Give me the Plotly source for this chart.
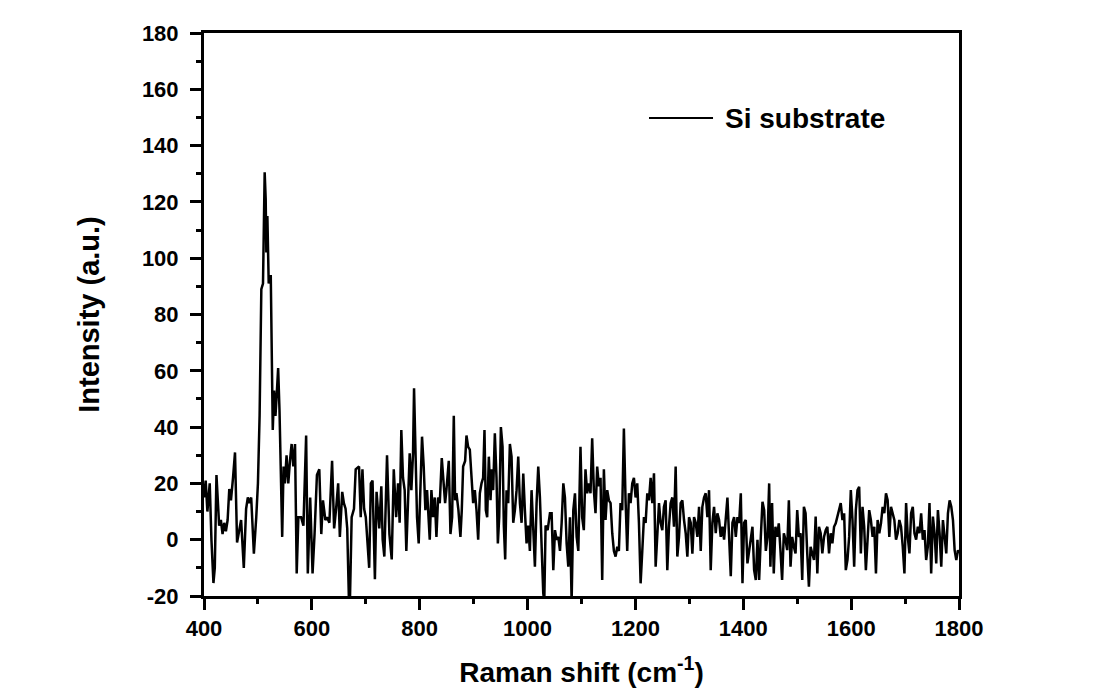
import plotly.graph_objects as go

# ---- data: Raman spectrum of Si substrate ----
shift_a = [400, 403.1, 406.3, 410.6, 413.8, 417.5, 420, 423.1, 428.1, 431.3, 434.4, 437.5, 440.6, 443.8,
           446.9, 450, 453.8, 457.5, 461.3, 465.6, 468.8, 473.8, 478.1, 481.3, 484.4, 487.5, 492.5, 496.9,
           500, 503.1, 506.3, 509.4, 512.5, 514.4, 515.6, 517.5, 520, 523.8, 526.3, 527.5, 530, 532.5, 535,
           537.5, 540, 542.5, 545, 547.5, 550, 553.1, 556.3, 559.4, 562.5, 565.6, 568.8, 571.9, 575, 580,
           584.4, 589.4, 592.5, 596.9, 601.3, 605, 609.4, 613.8, 617.5, 620.6, 625, 628.1, 632.5, 637.5,
           641.3, 645, 648.8, 651.9, 656.3, 659.4, 662.5, 665.6, 668.8, 670.6, 673.8, 678.1, 681.3, 687.5,
           690.6, 693.8, 696.9, 700, 706.3, 709.4, 712.5, 716.9, 720, 725, 728.8, 731.3, 734.4, 739.4,
           743.8, 748.1, 751.9, 756.3]
intensity_a = [15, 21, 10, 20, 0, -15.4, -10, 23, 5, 7, 2, 6, 3, 7,
               18, 14, 22, 31, -1, 4, 7, -10, 11, 15, 13, 15, -5, 8,
               20, 44, 89, 91, 130.5, 121, 102, 115, 91, 94, 56, 39, 53, 44, 52,
               61, 46, 20, 1, 26, 20, 30, 20, 28, 34, 26, 34, -12, 8, 8,
               5, 37, -12, 15, -12, 2, 23, 25, 2, 14, 7, 8, 6, 28,
               4, 11, 20, 1, 17, 13, 11, 4, -22, -22, 8, 11, 25, 26,
               8, 25, 11, 8, -10, 20, 21, -14, 17, 4, 19, 0, -6, 30,
               2, -7, 25, 8]

shift_b = [759.8, 762.8, 765.9, 769, 772.1, 775.2, 778.3, 781.4, 784.5, 787.6,
           789.5, 792.6, 795, 798.1, 801.2, 804.3, 807.4, 810.5, 813.6, 818.6,
           821.7, 824.8, 827.9, 831, 834.1, 837.2, 840.9, 844.6, 847.1, 849.5,
           853.9, 857, 860.1, 863.2, 865.6, 868.1, 871.8, 875.5, 878, 880.5,
           884.2, 886.7, 889.8, 892.9, 896, 899.1, 902.2, 905.3, 908.4, 911.5,
           914.6, 917.6, 920.1, 922.6, 925.1, 928.2, 931.3, 933.7, 936.2, 939.3,
           942.4, 944.9, 947.4, 950.5, 953.6, 956, 958.5, 961, 964.1, 967.2,
           970.3, 973.4, 976.5, 979.6, 982.7, 985.8, 988.9, 992, 995, 998.1,
           1001.2, 1004.3, 1007.4, 1010.5, 1013.6, 1016.7, 1019.8, 1022.9, 1026, 1029.1,
           1031, 1033.4, 1037.2, 1041.5, 1044.6, 1047.7, 1050.8, 1053.9, 1057, 1060.1,
           1063.2, 1066.3, 1069.3, 1072.4, 1075.5, 1078.6, 1081.7, 1084.8, 1087.9, 1091, 1094.1]
intensity_b = [20, 6, 39, 22, 17.6, -4, 16.5, 30.7, 17.6, 30.7,
               53.8, 32, 8, -1.3, 20, 36.6, 26, 10.5, 17.6, 0,
               17.6, 8, 15, 1, 15, 13, 29, 20, 13, 17.6,
               28, 2, 8, 44, 14, 16.5, 10.5, 1, 10.5, 26,
               28, 37, 33, 32, 22, 13, 17.6, 10.5, 0, 16.5,
               20, 22, 39, 10.5, 8, 29.5, 14, 25, 17.6, 37.8,
               22, -1.3, 8, 40, 33, 5, -7, 17.6, 13, 34,
               29.5, 6, 10.5, 17.6, 29.5, 13, 6, 23.5, 10.5, -1.3,
               5, -4, 17.6, 6, -9.6, 13, 26, 15, -6, -19,
               -22, 5, 3.4, 9.4, 9.4, -10.8, 3.4, 0, 1, -4,
               6, 20, 15, -1.3, -9.6, 8, -22, 10.5, 16.5, 1, -4]

shift_c = [1098.1, 1101.2, 1104.3, 1107.4, 1110.5, 1113.6, 1116.7, 1119.8, 1122.9, 1126,
           1129.1, 1132.2, 1135.3, 1138.4, 1141.5, 1144.6, 1147.7, 1150.8, 1153.9, 1157,
           1160.1, 1163.2, 1166.3, 1169.3, 1172.4, 1175.5, 1178.6, 1181.7, 1184.8, 1187.9,
           1191, 1194.1, 1197.2, 1200.3, 1203.4, 1206.5, 1209.6, 1212.7, 1215.8, 1218.9,
           1222, 1225.1, 1228.2, 1231.3, 1234.4, 1237.5, 1240.6, 1243.7, 1246.7, 1249.8,
           1252.9, 1256, 1259.1, 1262.2, 1265.3, 1268.4, 1271.5, 1274.6, 1277.7, 1280.8,
           1283.9, 1287, 1290.1, 1293.2, 1296.3, 1299.4, 1302.5, 1305.6, 1308.7, 1311.8,
           1314.9, 1318, 1321.1, 1324.1, 1327.2, 1330.3, 1333.4, 1336.5, 1339.6, 1342.7,
           1345.8, 1348.9, 1352, 1355.1, 1358.2, 1361.3, 1364.4, 1367.5, 1370.6, 1373.7,
           1376.8, 1379.9, 1383, 1386.1, 1389.2, 1392.3, 1395.4, 1398.5, 1401.5, 1404.6,
           1407.7, 1410.8, 1413.9, 1417, 1420.1, 1423.2, 1426.3, 1429.4, 1432.5, 1435.6,
           1438.7, 1441.8, 1444.9, 1448]
intensity_c = [33, 8, 3.4, 25, 16.5, 20, 16.5, 36, 17.6, 9.4,
               26, 19, 22, -14.3, 25, 7, 17.6, 14, 13, 2.3,
               -4, -6, -2.5, -4, 13, 10.5, 39.5, 14, -4, 16.5,
               13, 20, 22, 15, 20, 6, -15.5, -4, 8, 6,
               16.5, 14, 22, 13, 23.6, -9.6, 2.3, 13, 6, 3.4,
               11.7, 14, -10.8, 4.6, 13, 15, 4.6, 26, -6, 1,
               13, 14, 7, 2.3, -6, 8, 6, -5, 8, 6,
               1, 11.7, -4, 11.7, 15, 16.5, 8, 17.6, -10.8, 6,
               11.7, 2.3, 9.4, 7, 1, 4.6, 0, 8, 15, 1,
               -13, 6, 8, 1, 8, 6, 16.5, -15.5, 6, 7,
               -8.4, -4, 1, 4.6, -10.8, -14.3, 0, -14.3, 1, 13.5,
               10.5, -4, 1, 20]

shift_d = [1450.3, 1453.4, 1456.5, 1459.6, 1462.7, 1465.8, 1468.9, 1472, 1475.2, 1478.3,
           1481.4, 1484.5, 1487.6, 1490.7, 1493.8, 1496.9, 1500, 1503.1, 1506.2, 1509.3,
           1512.4, 1515.5, 1518.6, 1521.7, 1524.8, 1528, 1531.1, 1534.2, 1537.3, 1540.4,
           1543.5, 1546.6, 1549.7, 1552.8, 1555.9, 1559, 1562.1, 1565.2, 1568.3, 1571.4,
           1574.5, 1577.6, 1580.7, 1583.9, 1587, 1590.1, 1593.2, 1596.3, 1599.4, 1602.5,
           1605.6, 1608.7, 1611.8, 1614.9, 1618, 1621.1, 1624.2, 1627.3, 1630.4, 1633.5,
           1636.6, 1639.8, 1642.9, 1646, 1649.1, 1652.2, 1655.3, 1658.4, 1661.5, 1664.6,
           1667.7, 1670.8, 1673.9, 1677, 1680.1, 1683.2, 1686.3, 1689.4, 1692.5, 1695.7,
           1698.8, 1701.9, 1705, 1708.1, 1711.2, 1714.3, 1717.4, 1720.5, 1723.6, 1726.7,
           1729.8, 1732.9, 1736, 1739.1, 1742.2, 1745.3, 1748.4, 1751.6, 1754.7, 1757.8,
           1760.9, 1764, 1767.1, 1770.2, 1773.3, 1776.4, 1779.5, 1782.6, 1785.7, 1788.8,
           1791.9, 1795, 1798.1, 1800]
intensity_d = [-9.6, 13, -12, 4.6, 1, 5.8, -3.7, -14.3, 2.3, 0,
               -3.7, 14, -9.6, 1, -2.5, -4.9, 10.5, 1, 2.3, -14.3,
               11.7, 9.4, -4.9, -16.7, -2.5, -4.9, -7.2, 8.2, -12, 4.6,
               2.3, -4.9, 1, 3.4, 4.6, -4.9, 2.3, -1.3, 4.6, 5.8,
               8.2, 11.7, 13, 7, 9.4, -10.8, -7.2, 1, 17.6, 7,
               -9.6, 10.5, 17.6, 18.8, -4.9, 11.7, 4.6, -10.8, 2.3, 10.5,
               7, 1, 4.6, -12, 7, 2.3, 5.8, 11.7, 9.4, 16.5,
               14, 1, 11.7, 9.4, 7, 0, 2.3, 7, 4.6, -2.5,
               -12, 13, 1, -4.9, 9.4, 11.7, 2.3, 0, 4.6, 2.3,
               9.4, 0, 3.4, -7.2, -2.5, 13, -12, 8.2, 2.3, -8.4,
               10.5, 2.3, -9.6, 7, 1, -4.9, 9.4, 14, 11.7, 7,
               -3.7, -7.2, -3.7, -4.9]

x_tick_vals = [400, 600, 800, 1000, 1200, 1400, 1600, 1800]
x_tick_text = ["400", "600", "800", "1000", "1200", "1400", "1600", "1800"]
y_tick_vals = [-20, 0, 20, 40, 60, 80, 100, 120, 140, 160, 180]
y_tick_text = ["-20", "0", "20", "40", "60", "80", "100", "120", "140", "160", "180"]

series_name = "Si substrate"
x_title = "Raman shift (cm<sup>-1</sup>)"
y_title = "Intensity (a.u.)"

shift = shift_a + shift_b + shift_c + shift_d
intensity = intensity_a + intensity_b + intensity_c + intensity_d
n = min(len(shift), len(intensity))
shift, intensity = shift[:n], intensity[:n]

FONT = "Liberation Sans, Arial, sans-serif"

fig = go.Figure()
fig.add_trace(go.Scatter(x=shift, y=intensity, mode="lines", name=series_name,
                         line=dict(color="black", width=2.5), showlegend=False))

axis_common = dict(
    showgrid=False, zeroline=False, showline=True, linecolor="black", linewidth=3,
    mirror=True, ticks="outside", tickcolor="black", tickwidth=2.5, ticklen=11,
    tickfont=dict(family=FONT, size=22, color="black", weight="bold"),
)

fig.update_xaxes(range=[400, 1800], tickmode="array", tickvals=x_tick_vals, ticktext=x_tick_text,
                 minor=dict(ticks="outside", dtick=100, tick0=400, ticklen=5, tickwidth=2.5,
                            tickcolor="black"),
                 title=dict(text=x_title, font=dict(family=FONT, size=28, color="black", weight="bold"),
                            standoff=22),
                 ticklabelstandoff=0,
                 **axis_common)
fig.update_yaxes(range=[-20, 180], tickmode="array", tickvals=y_tick_vals, ticktext=y_tick_text,
                 minor=dict(ticks="outside", dtick=10, tick0=-20, ticklen=5, tickwidth=2.5,
                            tickcolor="black"),
                 title=dict(text=y_title, font=dict(family=FONT, size=29, color="black", weight="bold"),
                            standoff=34),
                 ticklabelstandoff=7,
                 **axis_common)

# legend drawn as a line sample + label inside the plot
fig.add_shape(type="line", xref="paper", yref="paper", x0=0.5894, x1=0.6742, y0=0.849, y1=0.849,
              line=dict(color="black", width=2))
fig.add_annotation(xref="paper", yref="paper", x=0.6874, y=0.849, xanchor="left", yanchor="middle",
                   text=series_name, showarrow=False,
                   font=dict(family=FONT, size=28, color="black", weight="bold"))

fig.update_layout(
    width=1100, height=691,
    margin=dict(l=204, r=141, t=33, b=95, autoexpand=False),
    paper_bgcolor="white", plot_bgcolor="white",
    font=dict(family=FONT, color="black"),
)

fig.write_html("out.html")
